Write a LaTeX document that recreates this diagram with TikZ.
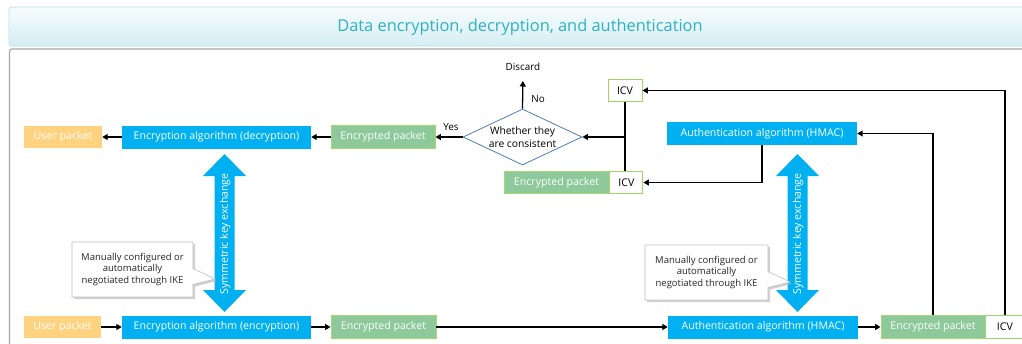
\documentclass[tikz,border=0pt]{standalone}
\usepackage{fontspec}
\setmainfont{Open Sans}
\usetikzlibrary{arrows.meta,shapes.geometric,shapes.callouts,shadows}

\definecolor{algcyan}{RGB}{0,176,240}
\definecolor{userorange}{RGB}{255,210,128}
\definecolor{pktgreen}{RGB}{141,201,155}
\definecolor{pktborder}{RGB}{168,216,112}
\definecolor{icvborder}{RGB}{160,212,100}
\definecolor{dianeedle}{RGB}{80,125,180}
\definecolor{titletext}{RGB}{48,176,192}
\definecolor{titleedge}{RGB}{184,226,232}
\definecolor{titletop}{RGB}{247,252,253}
\definecolor{titlebottom}{RGB}{212,238,243}
\definecolor{frameline}{RGB}{166,166,166}
\definecolor{calloutedge}{RGB}{190,190,190}

\tikzset{
  box/.style={draw=none, inner sep=0pt, minimum height=22.5pt, text=white,
              font=\fontsize{10.6}{12}\selectfont},
  userbox/.style={box, fill=userorange},
  algbox/.style={box, fill=algcyan, minimum height=23pt},
  pktbox/.style={box, fill=pktgreen, draw=pktborder, line width=0.9pt},
  icvbox/.style={box, fill=white, draw=icvborder, line width=0.9pt, text=black},
  decision/.style={diamond, draw=dianeedle, line width=0.8pt, fill=white,
                   inner sep=0pt, minimum width=119pt, minimum height=56pt,
                   aspect=2.1, align=center, font=\fontsize{10.3}{12.5}\selectfont},
  lbl/.style={font=\fontsize{9.9}{12}\selectfont, inner sep=0pt},
  conn/.style={line width=1.3pt, draw=black},
  arr/.style={conn, -{Triangle[length=5.5pt,width=6pt]}},
  note/.style={rectangle callout, draw=calloutedge, line width=0.6pt, fill=white,
               minimum width=121pt, minimum height=55pt, inner sep=0pt,
               align=center, text=black!85, font=\fontsize{9.5}{11.5}\selectfont,
               callout pointer width=16pt,
               drop shadow={shadow xshift=2pt, shadow yshift=-2pt, fill=black!30, opacity=0.6}},
  keytext/.style={rotate=90, text=white, inner sep=0pt,
                  font=\fontsize{10.6}{12}\selectfont},
}

\begin{document}
\begin{tikzpicture}[x=1pt, y=-1pt]
\useasboundingbox (0,0) rectangle (1022,343);
\clip (0,0) rectangle (1022,343);

% heading bar
\shade[top color=titletop, bottom color=titlebottom, draw=titleedge, line width=0.8pt,
       rounded corners=3pt] (9,7) rectangle (1040,46);
\node[text=titletext, font=\fontsize{16.4}{18}\selectfont] (title) at (520,27.5)
  {Data encryption, decryption, and authentication};

% content frame
\draw[frameline, line width=1.2pt, rounded corners=2.5pt] (9.5,360) -- (9.5,49) -- (1040,49);

% ---- decryption side (top row) ----
\node[userbox, minimum width=78pt]  (userT) at (63,137)   {User packet};
\node[algbox,  minimum width=189pt] (decU)  at (216.5,137) {Encryption algorithm (decryption)};
\node[pktbox,  minimum width=104pt] (encT)  at (383,137)  {Encrypted packet};
\node[decision] (dia) at (522.5,137) {Whether they\\are consistent};
\node[lbl, anchor=south] (disc) at (523,70.5) {Discard};
\node[lbl] (no)  at (538,99)  {No};
\node[lbl] (yes) at (451,127) {Yes};

\node[icvbox, minimum width=34pt] (icvA) at (625,90.5) {ICV};
\node[pktbox, minimum width=105pt] (epM) at (556.5,182.5) {Encrypted packet};
\node[icvbox, minimum width=33pt, anchor=west] (icvB) at (epM.east) {ICV};
\node[algbox, minimum width=190pt] (hmacT) at (762,133.5) {Authentication algorithm (HMAC)};

% ---- encryption side (bottom row) ----
\node[userbox, minimum width=77pt]  (userB) at (62.5,327) {User packet};
\node[algbox,  minimum width=189pt] (encA)  at (216.5,327) {Encryption algorithm (encryption)};
\node[pktbox,  minimum width=105pt] (encPB) at (383.5,327) {Encrypted packet};
\node[algbox,  minimum width=190pt] (hmacB) at (763,327)  {Authentication algorithm (HMAC)};
\node[pktbox,  minimum width=104pt] (epB)   at (933,327)  {Encrypted packet};
\node[icvbox,  minimum width=38pt, anchor=west] (icvC) at (epB.east) {ICV};

% ---- symmetric key exchange arrows ----
\foreach \c/\nm in {224.5/keyL, 797.5/keyR}{
  \fill[algcyan] (\c,154) -- (\c+21.5,176) -- (\c+10,176) -- (\c+10,290)
        -- (\c+21.5,290) -- (\c,312) -- (\c-21.5,290) -- (\c-10,290)
        -- (\c-10,176) -- (\c-21.5,176) -- cycle;
  \node[keytext] (\nm) at (\c+0.5,234) {Symmetric key exchange};
}

% ---- notes ----
\node[note, callout absolute pointer={(215,279)}] (noteL) at (132.5,269.5)
  {Manually configured or\\automatically\\negotiated through IKE};
\node[note, minimum width=123pt, callout absolute pointer={(790,282)}] (noteR) at (706.5,272.5)
  {Manually configured or\\automatically\\negotiated through IKE};

% ---- connectors: decryption ----
\draw[arr] (decU) -- (userT);
\draw[arr] (encT) -- (decU);
\draw[arr] (dia.west) -- (encT);
\draw[arr, shorten >=10.5pt] (dia.north) -- (disc.south);
\coordinate (jn) at (icvA.south |- dia.east);
\draw[conn] (icvA.south) -- (icvB.north -| icvA.south);
\draw[arr] (jn) -- (dia.east);
\draw[arr] (hmacT.south) |- (icvB.east);

% ---- connectors: encryption ----
\draw[arr] (userB) -- (encA);
\draw[arr] (encA) -- (encPB);
\draw[arr] (encPB) -- (hmacB);
\draw[arr] (hmacB) -- (epB);
\draw[arr] (epB.north) |- (hmacT.east);
\draw[arr] (icvC.north) |- (icvA.east);
\end{tikzpicture}
\end{document}
